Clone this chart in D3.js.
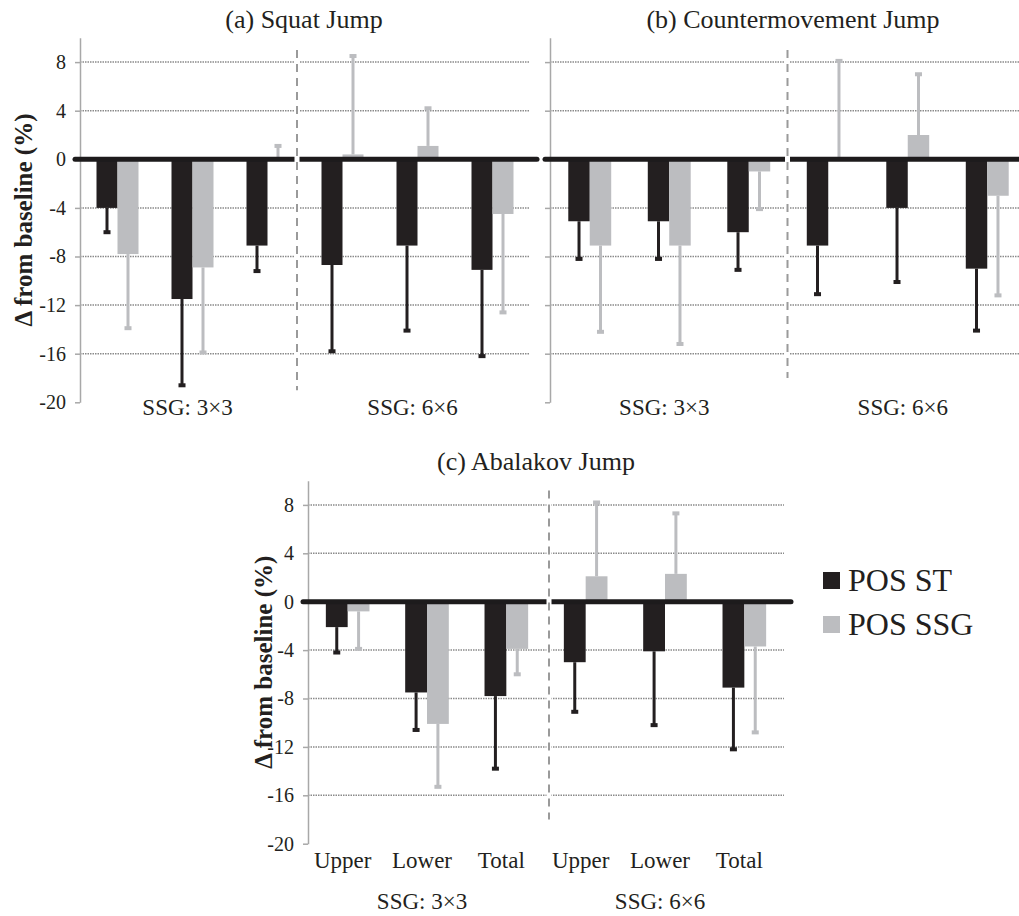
<!DOCTYPE html>
<html>
<head>
<meta charset="utf-8">
<script src="https://cdn.jsdelivr.net/npm/d3@7"></script>
<style>
  body { margin: 0; background: #fff; }
  svg { display: block; }
  text { font-family: "Liberation Serif", "Times New Roman", serif; fill: #231f20; }
</style>
</head>
<body>
<script>
// ---------- data ----------
const groups = ["3x3 Upper", "3x3 Lower", "3x3 Total", "6x6 Upper", "6x6 Lower", "6x6 Total"];
const subLabels = ["Upper", "Lower", "Total", "Upper", "Lower", "Total"];
const blockLabels = ["SSG: 3×3", "SSG: 6×6"];
const seriesNames = ["POS ST", "POS SSG"];
const yTicks = [-20, -16, -12, -8, -4, 0, 4, 8];
const yDomain = [-20, 10];

// (a) Squat Jump
const sjST = [-4.0, -11.5, -7.1, -8.7, -7.1, -9.1];
const sjSTerr = [2.0, 7.1, 2.1, 7.1, 7.0, 7.1];
const sjSSG = [-7.8, -8.9, 0.1, 0.4, 1.1, -4.5];
const sjSSGerr = [6.1, 7.0, 1.0, 8.1, 3.1, 8.1];

// (b) Countermovement Jump
const cmjST = [-5.1, -5.1, -6.0, -7.1, -4.0, -9.0];
const cmjSTerr = [3.1, 3.1, 3.1, 4.0, 6.1, 5.1];
const cmjSSG = [-7.1, -7.1, -1.0, 0.1, 2.0, -3.0];
const cmjSSGerr = [7.1, 8.1, 3.1, 8.0, 5.0, 8.2];

// (c) Abalakov Jump
const ajST = [-2.1, -7.5, -7.8, -5.0, -4.1, -7.1];
const ajSTerr = [2.1, 3.1, 6.0, 4.1, 6.1, 5.1];
const ajSSG = [-0.8, -10.1, -3.9, 2.1, 2.3, -3.7];
const ajSSGerr = [3.1, 5.2, 2.1, 6.1, 5.0, 7.1];

// ---------- style ----------
const colors = ["#231f20", "#bcbdc0"];
const W = 1019, H = 916;
const SERIF = "'Liberation Serif', 'Times New Roman', serif";

const svg = d3.select("body").append("svg").attr("width", W).attr("height", H);

const panels = [
  { title: "(a) Squat Jump", st: sjST, stErr: sjSTerr, ssg: sjSSG, ssgErr: sjSSGerr,
    xr: [80, 530], yr: [402.3, 37.8], pi: 0.44, po: 0.22, titleX: 304, titleY: 28,
    tickLabels: true, yTitle: true, yTitleX: 32, sub: false, blockY: 415, sepShift: -8, sepExt: [9, -19] },
  { title: "(b) Countermovement Jump", st: cmjST, stErr: cmjSTerr, ssg: cmjSSG, ssgErr: cmjSSGerr,
    xr: [550, 1027], yr: [402.3, 37.8], pi: 0.46, po: 0.23, titleX: 793, titleY: 28,
    tickLabels: false, yTitle: false, sub: false, blockY: 415, sepShift: -1, sepExt: [9, -18] },
  { title: "(c) Abalakov Jump", st: ajST, stErr: ajSTerr, ssg: ajSSG, ssgErr: ajSSGerr,
    xr: [308, 784], yr: [843.7, 480.7], pi: 0.45, po: 0.225, titleX: 536, titleY: 470,
    tickLabels: true, yTitle: true, yTitleX: 272, sub: true, subY: 868, blockY: 909, sepShift: 3, sepExt: [9.2, -18] }
];

panels.forEach(p => {
  const g = svg.append("g");
  const x0 = d3.scaleBand().domain(groups).range(p.xr).paddingInner(p.pi).paddingOuter(p.po);
  const x1 = d3.scaleBand().domain(seriesNames).range([0, x0.bandwidth()]);
  const y = d3.scaleLinear().domain(yDomain).range(p.yr);
  const axisX = p.xr[0];
  const plotEnd = p.xr[1] - x0.step() * (p.po - p.pi / 2);

  // title
  g.append("text").attr("x", p.titleX).attr("y", p.titleY)
    .attr("text-anchor", "middle").style("font-family", SERIF).style("font-size", "26px").text(p.title);

  // gridlines
  g.append("g").selectAll("line").data(yTicks.filter(t => t !== 0 && t !== -20)).join("line")
    .attr("x1", axisX).attr("x2", Math.min(plotEnd, W + 10))
    .attr("y1", d => y(d)).attr("y2", d => y(d))
    .attr("stroke", "#8a8a8a").attr("stroke-width", 1.5).attr("stroke-dasharray", "1.5,1");

  // y axis
  const ax = g.append("g").attr("transform", `translate(${axisX},0)`)
    .call(d3.axisLeft(y).tickValues(yTicks).tickSize(5).tickSizeOuter(0).tickPadding(9)
      .tickFormat(p.tickLabels ? d3.format("d") : () => ""));
  ax.attr("font-family", null);
  ax.select(".domain").attr("stroke", "#a8a8a8").attr("stroke-width", 1.5);
  ax.selectAll(".tick line").attr("stroke", "#a8a8a8").attr("stroke-width", 1.5);
  ax.selectAll(".tick text").style("font-size", "20px")
    .style("font-family", SERIF).attr("fill", "#231f20")
    .text(d => p.tickLabels ? (d < 0 ? "-" + Math.abs(d) : String(d)) : "");

  // bars
  const seriesData = [
    { name: seriesNames[0], vals: p.st, errs: p.stErr, color: colors[0] },
    { name: seriesNames[1], vals: p.ssg, errs: p.ssgErr, color: colors[1] }
  ];
  seriesData.forEach(s => {
    const items = groups.map((gname, i) => ({ gname, v: s.vals[i], e: s.errs[i] }));
    g.append("g").selectAll("rect").data(items).join("rect")
      .attr("x", d => x0(d.gname) + x1(s.name))
      .attr("width", x1.bandwidth())
      .attr("y", d => y(Math.max(0, d.v)))
      .attr("height", d => Math.abs(y(d.v) - y(0)))
      .attr("fill", s.color);
    // error bars
    const eg = g.append("g");
    eg.selectAll("line").data(items).join("line")
      .attr("x1", d => x0(d.gname) + x1(s.name) + x1.bandwidth() / 2)
      .attr("x2", d => x0(d.gname) + x1(s.name) + x1.bandwidth() / 2)
      .attr("y1", d => y(d.v))
      .attr("y2", d => y(d.v + (d.v >= 0 ? d.e : -d.e)))
      .attr("stroke", s.color).attr("stroke-width", 3);
    eg.selectAll("rect").data(items).join("rect")
      .attr("x", d => x0(d.gname) + x1(s.name) + x1.bandwidth() / 2 - 3.5)
      .attr("width", 7)
      .attr("y", d => y(d.v + (d.v >= 0 ? d.e : -d.e)) - 2)
      .attr("height", 4)
      .attr("fill", s.color);
  });

  // zero line
  g.append("line").attr("x1", axisX - 5).attr("x2", Math.min(plotEnd + 7, W + 10))
    .attr("y1", y(0)).attr("y2", y(0))
    .attr("stroke", "#1d1b1c").attr("stroke-width", 5).attr("stroke-linecap", "round");

  // separator
  const sepX = x0(groups[3]) - x0.step() * p.pi / 2 + p.sepShift;
  g.append("line").attr("x1", sepX).attr("x2", sepX)
    .attr("y1", y(p.sepExt[0])).attr("y2", y(p.sepExt[1]))
    .attr("stroke", "#fff").attr("stroke-width", 5);
  g.append("line").attr("x1", sepX).attr("x2", sepX)
    .attr("y1", y(p.sepExt[0])).attr("y2", y(p.sepExt[1]))
    .attr("stroke", "#9a9a9a").attr("stroke-width", 2).attr("stroke-dasharray", "8,6");

  // sub labels
  if (p.sub) {
    g.append("g").selectAll("text").data(groups).join("text")
      .attr("x", d => x0(d) + x0.bandwidth() / 2 - 5)
      .attr("y", p.subY).attr("text-anchor", "middle")
      .style("font-family", SERIF).style("font-size", "23px")
      .text((d, i) => subLabels[i]);
  }
  // block labels
  [0, 1].forEach(b => {
    const first = groups[b * 3], last = groups[b * 3 + 2];
    const cx = (x0(first) + x0(last) + x0.bandwidth()) / 2 - 5;
    g.append("text").attr("x", cx).attr("y", p.blockY)
      .attr("text-anchor", "middle").style("font-family", SERIF).style("font-size", "23px")
      .text(blockLabels[b]);
  });

  // y title
  if (p.yTitle) {
    const cy = y(-5);
    g.append("text").attr("transform", `translate(${p.yTitleX},${cy}) rotate(-90)`)
      .attr("text-anchor", "middle").style("font-family", SERIF)
      .style("font-size", "25px").style("font-weight", "bold")
      .text("Δ from baseline (%)");
  }
});

// legend
const leg = svg.append("g").attr("transform", "translate(823,572)");
seriesNames.forEach((n, i) => {
  leg.append("rect").attr("x", 0).attr("y", i * 44).attr("width", 17).attr("height", 17).attr("fill", colors[i]);
  leg.append("text").attr("x", 25).attr("y", i * 44 + 19)
    .style("font-family", SERIF).style("font-size", "32px").text(n);
});
</script>
</body>
</html>
